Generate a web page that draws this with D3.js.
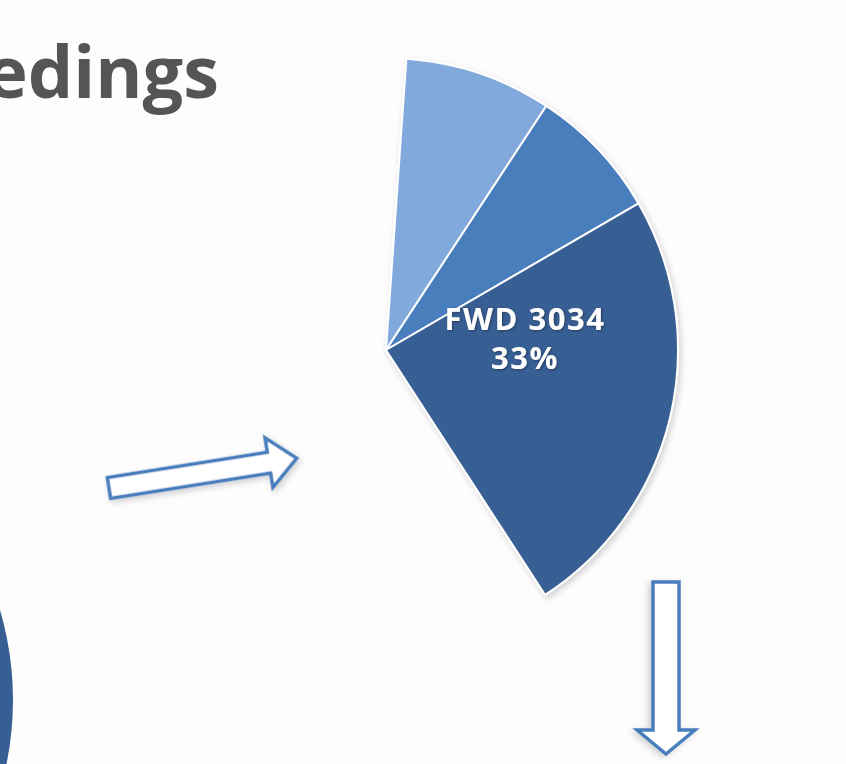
<!DOCTYPE html>
<html>
<head>
<meta charset="utf-8">
<script src="https://cdn.jsdelivr.net/npm/d3@7"></script>
<style>
  body { margin: 0; background: #fbfbfb; }
  svg { display: block; }
</style>
</head>
<body>
<svg id="chart"></svg>
<script>
// data
var labels = ['light', 'mid', 'FWD 3034'];
var values = [1020, 925, 3034];
var colors = ['#82a9dc', '#4a7ebd', '#385f93'];
var labelText = ['FWD 3034', '33%'];
var title = 'edings';

var width = 846;
var height = 764;

var svg = d3.select('#chart')
  .attr('width', width)
  .attr('height', height);

var defs = svg.append('defs');
var sh = defs.append('filter').attr('id', 'shadow')
  .attr('x', '-20%').attr('y', '-20%').attr('width', '140%').attr('height', '140%');
sh.append('feDropShadow')
  .attr('dx', 2).attr('dy', 3).attr('stdDeviation', 3)
  .attr('flood-color', '#000').attr('flood-opacity', 0.18);

var glow = defs.append('filter').attr('id', 'glow');
glow.append('feDropShadow')
  .attr('dx', 1).attr('dy', 1).attr('stdDeviation', 1.2)
  .attr('flood-color', '#1a2f4a').attr('flood-opacity', 0.7);

// slide background
svg.append('rect')
  .attr('width', width).attr('height', height)
  .attr('fill', '#fdfdfd');

// title (cut at left)
svg.append('text')
  .attr('x', 219)
  .attr('y', 98)
  .attr('text-anchor', 'end')
  .attr('font-family', 'Open Sans, sans-serif')
  .attr('font-weight', 700)
  .attr('font-size', 72)
  .attr('fill', '#555555')
  .text(title);

// part of the previous pie at bottom left
svg.append('circle')
  .attr('cx', -305).attr('cy', 700).attr('r', 318)
  .attr('fill', colors[2]);

// pie
var deg = Math.PI / 180;
var pie = d3.pie()
  .sort(null)
  .startAngle(4 * deg)
  .endAngle(147 * deg)
  .value((d) => d);

var arc = d3.arc()
  .innerRadius(0)
  .outerRadius(292);

var g = svg.append('g')
  .attr('transform', 'translate(386,350)')
  .attr('filter', 'url(#shadow)');

g.selectAll('path')
  .data(pie(values))
  .enter().append('path')
  .attr('d', arc)
  .attr('fill', (d, i) => colors[i])
  .attr('stroke', '#ffffff')
  .attr('stroke-width', 2)
  .attr('stroke-linejoin', 'round');

// label on dark slice
var lbl = svg.append('g')
  .attr('font-family', 'Open Sans, sans-serif')
  .attr('font-weight', 700)
  .attr('font-size', 31)
  .attr('letter-spacing', 1.5)
  .attr('fill', '#ffffff')
  .attr('text-anchor', 'middle')
  .attr('filter', 'url(#glow)');

lbl.selectAll('text')
  .data(labelText)
  .enter().append('text')
  .attr('x', 525)
  .attr('y', (d, i) => 330 + i * 39)
  .text((d) => d);

// arrows
function arrowPath(len, shaft, head, headLen) {
  var s = shaft / 2, h = head / 2;
  return 'M0,' + (-s) + 'L' + (len - headLen) + ',' + (-s) +
    'L' + (len - headLen) + ',' + (-h) + 'L' + len + ',0' +
    'L' + (len - headLen) + ',' + h + 'L' + (len - headLen) + ',' + s +
    'L0,' + s + 'Z';
}

svg.append('path')
  .attr('d', arrowPath(190, 21, 50, 28))
  .attr('transform', 'translate(109,488) rotate(-9)')
  .attr('fill', '#ffffff')
  .attr('stroke', '#4a7ebd')
  .attr('stroke-width', 3.5)
  .attr('stroke-linejoin', 'miter')
  .attr('filter', 'url(#shadow)');

svg.append('path')
  .attr('d', arrowPath(172, 26, 58, 24))
  .attr('transform', 'translate(666,582) rotate(90)')
  .attr('fill', '#ffffff')
  .attr('stroke', '#4a7ebd')
  .attr('stroke-width', 3.5)
  .attr('filter', 'url(#shadow)');
</script>
</body>
</html>
